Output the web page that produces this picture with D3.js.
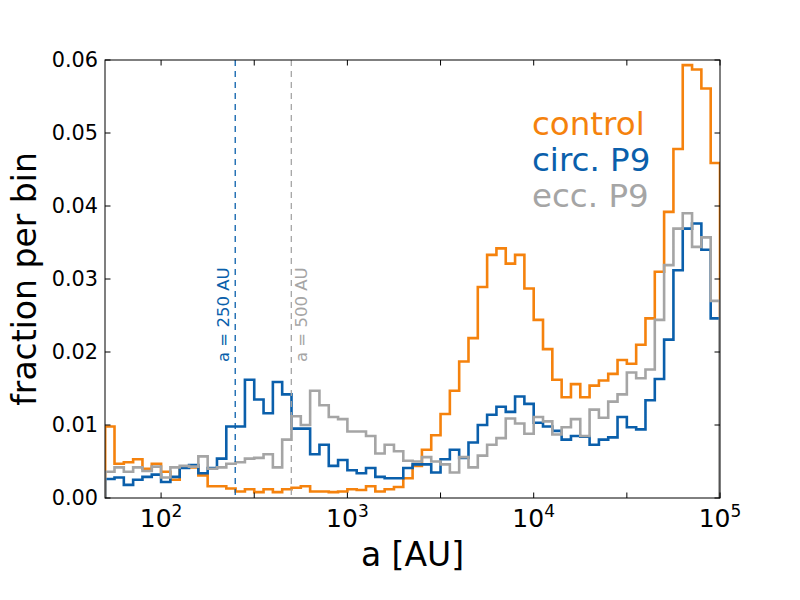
<!DOCTYPE html>
<html>
<head>
<meta charset="utf-8">
<script src="https://cdn.jsdelivr.net/npm/d3@7"></script>
<style>
  html, body { margin: 0; padding: 0; background: #ffffff; }
  svg { display: block; }
  text { font-family: "DejaVu Sans", sans-serif; }
</style>
</head>
<body>
<div id="chart"></div>
<script>
// ---------------- data ----------------
const seriesNames = ["control", "circ. P9", "ecc. P9"];
const seriesColors = ["#f5820d", "#0a5fab", "#a5a5a5"];

// log10 bin edges: 1.70 ... 5.00 in 0.05 dex steps (66 bins)
const binLogStart = 1.7;
const binLogStep = 0.05;
const nBins = 66;

const control = [
  0.0098, 0.0047, 0.0049, 0.0053, 0.0040, 0.0047, 0.0036, 0.0025, 0.0042, 0.0042,
  0.0031, 0.0016, 0.0016, 0.0013, 0.0009, 0.0012, 0.0008, 0.0012, 0.0008, 0.0012,
  0.0014, 0.0016, 0.0009, 0.0009, 0.0008, 0.0009, 0.0012, 0.0011, 0.0016, 0.0009,
  0.0012, 0.0015, 0.0027, 0.0044, 0.0066, 0.0086, 0.0115, 0.0147, 0.0187, 0.0219,
  0.0289, 0.0333, 0.0342, 0.0321, 0.0333, 0.0287, 0.0244, 0.0204, 0.0162, 0.0138,
  0.0156, 0.0138, 0.0154, 0.0161, 0.0170, 0.0189, 0.0184, 0.0210, 0.0246, 0.0310,
  0.0392, 0.0478, 0.0593, 0.0587, 0.0561, 0.0459
];
const circP9 = [
  0.0026, 0.0028, 0.0018, 0.0025, 0.0029, 0.0032, 0.0022, 0.0029, 0.0041, 0.0045,
  0.0034, 0.0041, 0.0054, 0.0098, 0.0098, 0.0162, 0.0135, 0.0116, 0.0159, 0.0142,
  0.0095, 0.0095, 0.0060, 0.0073, 0.0044, 0.0052, 0.0038, 0.0034, 0.0041, 0.0029,
  0.0027, 0.0027, 0.0041, 0.0046, 0.0046, 0.0035, 0.0053, 0.0066, 0.0055, 0.0076,
  0.0100, 0.0114, 0.0125, 0.0118, 0.0139, 0.0129, 0.0103, 0.0098, 0.0092, 0.0080,
  0.0085, 0.0084, 0.0073, 0.0080, 0.0083, 0.0111, 0.0097, 0.0094, 0.0134, 0.0163,
  0.0217, 0.0312, 0.0369, 0.0376, 0.0340, 0.0246
];
const eccP9 = [
  0.0036, 0.0042, 0.0036, 0.0042, 0.0037, 0.0043, 0.0028, 0.0042, 0.0044, 0.0043,
  0.0057, 0.0040, 0.0042, 0.0047, 0.0049, 0.0054, 0.0055, 0.0060, 0.0042, 0.0080,
  0.0112, 0.0100, 0.0147, 0.0127, 0.0111, 0.0108, 0.0091, 0.0091, 0.0085, 0.0061,
  0.0073, 0.0064, 0.0051, 0.0050, 0.0056, 0.0050, 0.0046, 0.0035, 0.0056, 0.0042,
  0.0058, 0.0073, 0.0082, 0.0109, 0.0102, 0.0088, 0.0111, 0.0105, 0.0087, 0.0097,
  0.0108, 0.0085, 0.0121, 0.0110, 0.0132, 0.0142, 0.0172, 0.0164, 0.0176, 0.0244,
  0.0319, 0.0369, 0.0390, 0.0344, 0.0357, 0.0270
];

const yTicks = [0, 0.01, 0.02, 0.03, 0.04, 0.05, 0.06];
const yTickLabels = ["0.00", "0.01", "0.02", "0.03", "0.04", "0.05", "0.06"];
const xMajorTicks = [1e2, 1e3, 1e4, 1e5];
const xTickExponents = ["2", "3", "4", "5"];
const xHalfTicks = [316.2278, 3162.278, 31622.78];
const refLines = [250, 500];
const refLabels = ["a = 250 AU", "a = 500 AU"];
const refColors = ["#0a5fab", "#a5a5a5"];

// ---------------- layout ----------------
const W = 800, H = 600;
const L = 105, R = 720, T = 60, B = 498;

const x = d3.scaleLog().domain([50, 1e5]).range([L, R]);
const y = d3.scaleLinear().domain([0, 0.06]).range([B, T]);

const svg = d3.select("#chart").append("svg")
  .attr("width", W).attr("height", H);
svg.append("rect").attr("width", W).attr("height", H).attr("fill", "#ffffff");

svg.append("defs").append("clipPath").attr("id", "plotclip")
  .append("rect").attr("x", L).attr("y", T).attr("width", R - L).attr("height", B - T);

const binEdges = d3.range(nBins + 1).map(i => Math.pow(10, binLogStart + binLogStep * i));

function stepPoints(vals) {
  const pts = [[binEdges[0], 0]];
  vals.forEach((v, i) => { pts.push([binEdges[i], v]); pts.push([binEdges[i + 1], v]); });
  pts.push([binEdges[vals.length], 0]);
  return pts;
}
const line = d3.line().x(d => x(d[0])).y(d => y(d[1]));

const plot = svg.append("g").attr("clip-path", "url(#plotclip)");
[control, circP9, eccP9].forEach((vals, k) => {
  plot.append("path")
    .attr("d", line(stepPoints(vals)))
    .attr("fill", "none")
    .attr("stroke", seriesColors[k])
    .attr("stroke-width", 2.6)
    .attr("stroke-linejoin", "miter");
});

// reference dashed lines
refLines.forEach((a, k) => {
  plot.append("line")
    .attr("x1", x(a)).attr("x2", x(a))
    .attr("y1", T).attr("y2", B)
    .attr("stroke", refColors[k])
    .attr("stroke-width", 1.3)
    .attr("stroke-dasharray", "6,5");
});
// reference labels
svg.append("text")
  .attr("transform", `translate(${x(refLines[0]) - 6},362) rotate(-90)`)
  .attr("font-size", 16.5).attr("fill", refColors[0])
  .text(refLabels[0]);
svg.append("text")
  .attr("transform", `translate(${x(refLines[1]) + 16},362) rotate(-90)`)
  .attr("font-size", 16.5).attr("fill", refColors[1])
  .text(refLabels[1]);

// ---------------- axes ----------------
const tickLen = 5.5;
const axes = svg.append("g");
// y ticks left & right (inward)
yTicks.forEach((v, i) => {
  axes.append("line").attr("x1", L).attr("x2", L + tickLen)
    .attr("y1", y(v)).attr("y2", y(v)).attr("stroke", "#000").attr("stroke-width", 1);
  axes.append("line").attr("x1", R).attr("x2", R - tickLen)
    .attr("y1", y(v)).attr("y2", y(v)).attr("stroke", "#000").attr("stroke-width", 1);
  axes.append("text")
    .attr("x", L - 7).attr("y", y(v)).attr("dy", "0.36em")
    .attr("text-anchor", "end").attr("font-size", 20.8).attr("fill", "#000")
    .text(yTickLabels[i]);
});
// x ticks bottom & top (inward)
xMajorTicks.concat(xHalfTicks).forEach(v => {
  axes.append("line").attr("x1", x(v)).attr("x2", x(v))
    .attr("y1", B).attr("y2", B - tickLen).attr("stroke", "#000").attr("stroke-width", 1);
  axes.append("line").attr("x1", x(v)).attr("x2", x(v))
    .attr("y1", T).attr("y2", T + tickLen).attr("stroke", "#000").attr("stroke-width", 1);
});
xMajorTicks.forEach((v, i) => {
  const t = axes.append("text")
    .attr("x", x(v)).attr("y", 527)
    .attr("text-anchor", "middle")
    .attr("font-family", "'Liberation Serif', serif")
    .attr("font-size", 25).attr("fill", "#000");
  t.append("tspan").text("10");
  t.append("tspan").attr("font-size", 17).attr("dy", -10).text(xTickExponents[i]);
});

// spines
axes.append("rect").attr("x", L).attr("y", T).attr("width", R - L).attr("height", B - T)
  .attr("fill", "none").attr("stroke", "#000").attr("stroke-width", 1);

// axis labels
svg.append("text")
  .attr("x", (L + R) / 2).attr("y", 566)
  .attr("text-anchor", "middle").attr("font-size", 33).attr("fill", "#000")
  .text("a [AU]");
svg.append("text")
  .attr("transform", `translate(36,${(T + B) / 2}) rotate(-90)`)
  .attr("text-anchor", "middle").attr("font-size", 33).attr("fill", "#000")
  .text("fraction per bin");

// legend (text only)
const legendY = [135, 171, 207];
seriesNames.forEach((name, k) => {
  svg.append("text")
    .attr("x", 532).attr("y", legendY[k])
    .attr("font-size", 32.5).attr("fill", seriesColors[k])
    .text(name);
});
</script>
</body>
</html>
